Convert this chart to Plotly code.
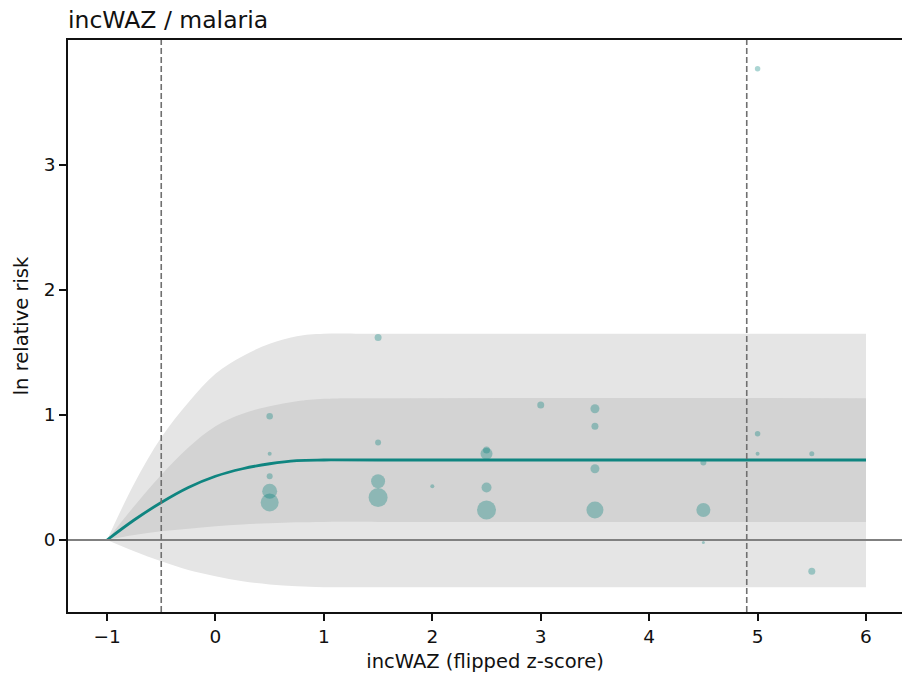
import plotly.graph_objects as go

# ---- data ----
curve_x = [-1.0, -0.75, -0.5, -0.25, 0.0, 0.25, 0.5, 0.75, 1.0, 1.5, 6.0]
curve_y = [0.0, 0.16, 0.30, 0.42, 0.51, 0.57, 0.61, 0.635, 0.64, 0.64, 0.64]
outer_upper = [0.0, 0.45, 0.82, 1.10, 1.33, 1.47, 1.57, 1.63, 1.65, 1.65, 1.65]
outer_lower = [0.0, -0.09, -0.17, -0.24, -0.29, -0.33, -0.355, -0.37, -0.378, -0.378, -0.378]
inner_upper = [0.0, 0.27, 0.52, 0.74, 0.91, 1.01, 1.07, 1.11, 1.13, 1.135, 1.135]
inner_lower = [0.0, 0.04, 0.07, 0.09, 0.11, 0.125, 0.135, 0.142, 0.145, 0.145, 0.145]

pts_x = [0.5, 0.5, 0.5, 0.5, 0.5,
         1.5, 1.5, 1.5, 1.5,
         2.0,
         2.5, 2.5, 2.5, 2.5,
         3.0,
         3.5, 3.5, 3.5, 3.5,
         4.5, 4.5, 4.5,
         5.0, 5.0, 5.0,
         5.5, 5.5]
pts_y = [0.99, 0.69, 0.51, 0.39, 0.30,
         1.62, 0.78, 0.47, 0.34,
         0.43,
         0.72, 0.69, 0.42, 0.24,
         1.08,
         1.05, 0.91, 0.57, 0.24,
         0.62, 0.24, -0.02,
         3.77, 0.85, 0.69,
         0.69, -0.25]
pts_w = [6.5, 4, 6, 15, 18,
         7, 6, 14, 19,
         4,
         7, 12, 10, 19,
         7,
         9, 7, 9, 17,
         6, 14, 3,
         5.5, 5.5, 4,
         5, 7]

vlines_x = [-0.5, 4.9]
x_ticks = [-1, 0, 1, 2, 3, 4, 5, 6]
x_ticktext = ["\u22121", "0", "1", "2", "3", "4", "5", "6"]
y_ticks = [0, 1, 2, 3]
y_ticktext = ["0", "1", "2", "3"]

TEAL = "#0f8580"
FONT = "DejaVu Sans"

fig = go.Figure()

# outer band
fig.add_trace(go.Scatter(x=curve_x, y=outer_lower, mode="lines",
                         line=dict(width=0, shape="spline"), hoverinfo="skip", showlegend=False))
fig.add_trace(go.Scatter(x=curve_x, y=outer_upper, mode="lines", fill="tonexty",
                         fillcolor="#e5e5e5", line=dict(width=0, shape="spline"),
                         hoverinfo="skip", showlegend=False))
# inner band
fig.add_trace(go.Scatter(x=curve_x, y=inner_lower, mode="lines",
                         line=dict(width=0, shape="spline"), hoverinfo="skip", showlegend=False))
fig.add_trace(go.Scatter(x=curve_x, y=inner_upper, mode="lines", fill="tonexty",
                         fillcolor="#d3d3d3", line=dict(width=0, shape="spline"),
                         hoverinfo="skip", showlegend=False))

# points
fig.add_trace(go.Scatter(x=pts_x, y=pts_y, mode="markers",
                         marker=dict(size=pts_w, color="rgba(0,128,122,0.47)", line=dict(width=0)),
                         showlegend=False))

# curve
fig.add_trace(go.Scatter(x=curve_x, y=curve_y, mode="lines",
                         line=dict(color=TEAL, width=2.8, shape="spline"), showlegend=False))

# reference lines
fig.add_shape(type="line", xref="paper", yref="y", x0=0, x1=1, y0=0, y1=0,
              line=dict(color="#808080", width=2), layer="above")
for vx in vlines_x:
    fig.add_shape(type="line", xref="x", yref="paper", x0=vx, x1=vx, y0=0, y1=1,
                  line=dict(color="#707070", width=1.6, dash="6px,3px"), layer="above")

fig.update_layout(
    width=902, height=676,
    margin=dict(l=68, r=0, t=40, b=64),
    paper_bgcolor="white", plot_bgcolor="white",
    font=dict(family=FONT, size=18.5, color="#111"),
    title=dict(text="incWAZ / malaria", x=68/902, xref="container", xanchor="left",
               y=1 - 20/676, yref="container", yanchor="middle",
               font=dict(family=FONT, size=23.5, color="#111")),
)
fig.update_xaxes(range=[-1.36, 6.332], tickvals=x_ticks, ticktext=x_ticktext,
                 showgrid=False, zeroline=False, showline=True, mirror=True,
                 linecolor="#111", linewidth=1.6, ticks="outside", ticklen=7,
                 tickwidth=1.5, tickcolor="#111",
                 title=dict(text="incWAZ (flipped z-score)", standoff=8,
                            font=dict(family=FONT, size=19.5)))
fig.update_yaxes(range=[-0.576, 4.0], tickvals=y_ticks, ticktext=y_ticktext,
                 showgrid=False, zeroline=False, showline=True, mirror=False,
                 linecolor="#111", linewidth=1.6, ticks="outside", ticklen=7,
                 tickwidth=1.5, tickcolor="#111",
                 title=dict(text="ln relative risk", standoff=10,
                            font=dict(family=FONT, size=19.5)))

fig.write_html("out.html")
